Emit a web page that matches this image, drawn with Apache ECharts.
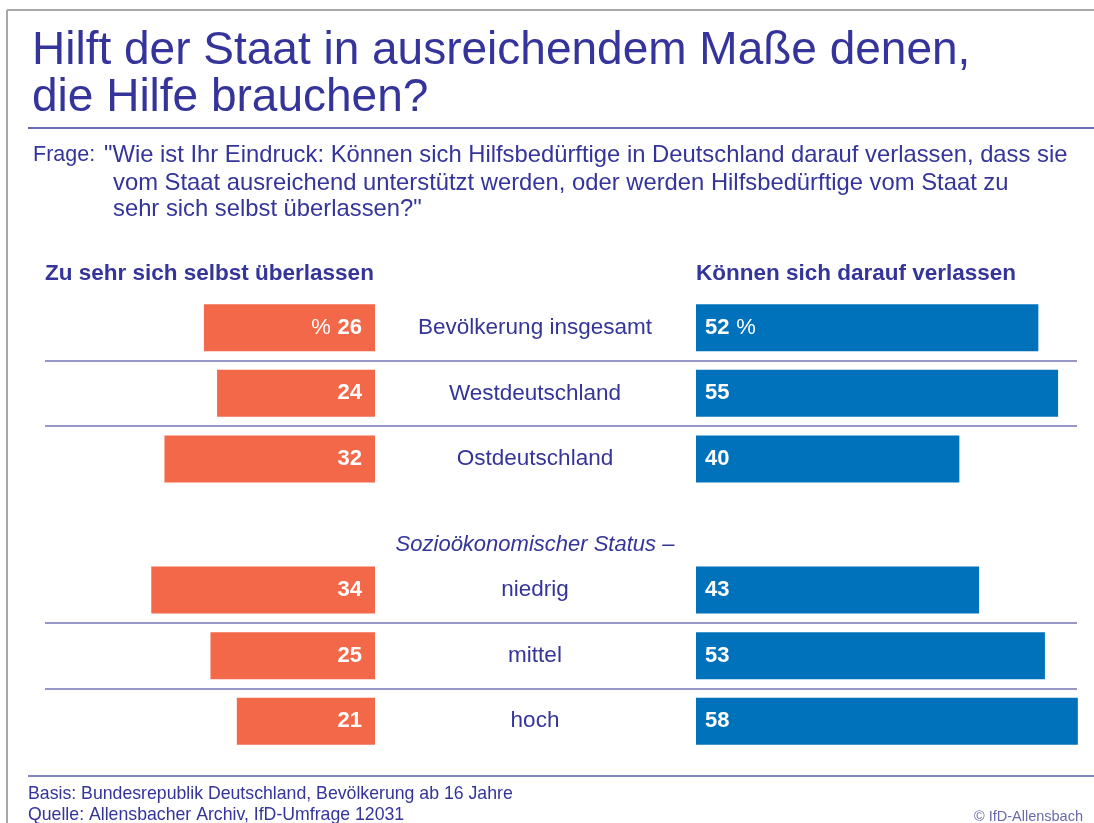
<!DOCTYPE html>
<html>
<head>
<meta charset="utf-8">
<script src="https://cdn.jsdelivr.net/npm/echarts@6/dist/echarts.min.js"></script>
<style>
  html, body { margin: 0; padding: 0; background: #fff; }
  #main { width: 1094px; height: 823px; }
</style>
</head>
<body>
<div id="main"></div>
<script>
// Kategorien (Zeile 4 ist die Lücke für die Zwischenüberschrift)
var categories = ['Bevölkerung insgesamt', 'Westdeutschland', 'Ostdeutschland', '', 'niedrig', 'mittel', 'hoch'];
var subHeading = 'Sozioökonomischer Status –';
// Zu sehr sich selbst überlassen
var leftValues = [26, 24, 32, '-', 34, 25, 21];
// Können sich darauf verlassen
var rightValues = [52, 55, 40, '-', 43, 53, 58];

var FONT = '"Liberation Sans", Arial, sans-serif';
var BLUE_TEXT = '#34349a';

var myChart = echarts.init(document.getElementById('main'));

var option = {
    textStyle: { fontFamily: FONT },
    animation: false,
    title: [{
        text: 'Hilft der Staat in ausreichendem Maße denen,\ndie Hilfe brauchen?',
        left: 27, top: 23,
        textStyle: { fontSize: 46, fontWeight: 'normal', color: BLUE_TEXT, lineHeight: 47, fontFamily: FONT }
    }, {
        text: 'Frage:',
        left: 28, top: 139,
        textStyle: { fontSize: 21.5, fontWeight: 'normal', color: BLUE_TEXT, fontFamily: FONT }
    }, {
        text: '"Wie ist Ihr Eindruck: Können sich Hilfsbedürftige in Deutschland darauf verlassen, dass sie',
        left: 99, top: 138,
        textStyle: { fontSize: 23.8, fontWeight: 'normal', color: BLUE_TEXT, fontFamily: FONT }
    }, {
        text: 'vom Staat ausreichend unterstützt werden, oder werden Hilfsbedürftige vom Staat zu\nsehr sich selbst überlassen?"',
        left: 108, top: 165,
        textStyle: { fontSize: 23.8, fontWeight: 'normal', color: BLUE_TEXT, lineHeight: 26.5, fontFamily: FONT }
    }, {
        text: 'Zu sehr sich selbst überlassen',
        left: 40, top: 257,
        textStyle: { fontSize: 22.5, fontWeight: 'bold', color: BLUE_TEXT, fontFamily: FONT }
    }, {
        text: 'Können sich darauf verlassen',
        left: 691, top: 257,
        textStyle: { fontSize: 22.5, fontWeight: 'bold', color: BLUE_TEXT, fontFamily: FONT }
    }, {
        text: 'Basis: Bundesrepublik Deutschland, Bevölkerung ab 16 Jahre\nQuelle: Allensbacher Archiv, IfD-Umfrage 12031',
        left: 23, top: 779,
        textStyle: { fontSize: 17.7, fontWeight: 'normal', color: BLUE_TEXT, lineHeight: 21, fontFamily: FONT }
    }, {
        text: '© IfD-Allensbach',
        right: 6, top: 804,
        textStyle: { fontSize: 14.5, fontWeight: 'normal', color: '#6a6aa8', fontFamily: FONT }
    }],
    grid: [
        // links
        { left: 46, width: 329, top: 295, bottom: 69 },
        // rechts
        { left: 696, width: 395, top: 295, bottom: 69 },
        // Trennlinien (nur die ersten sechs Zeilen, die letzte Grenze liegt unter "mittel")
        { left: 45, right: 17, top: 295, height: 393.5 }
    ],
    xAxis: [
        { gridIndex: 0, type: 'value', min: 0, max: 50, inverse: true, show: false },
        { gridIndex: 1, type: 'value', min: 0, max: 60, show: false },
        { gridIndex: 2, type: 'value', min: 0, max: 1, show: false }
    ],
    yAxis: [{
        gridIndex: 0, type: 'category', data: categories, inverse: true,
        axisLine: { show: false }, axisTick: { show: false }, axisLabel: { show: false }, splitLine: { show: false }
    }, {
        gridIndex: 1, type: 'category', data: categories, inverse: true,
        axisLine: { show: false }, axisTick: { show: false }, splitLine: { show: false },
        axisLabel: {
            show: true, interval: 0, align: 'center', margin: 161,
            fontSize: 22.5, color: BLUE_TEXT, fontFamily: FONT,
            formatter: function (v, i) {
                if (v === '') return '{sub|' + subHeading + '}';
                return v;
            },
            rich: {
                sub: { fontSize: 22, fontStyle: 'italic', color: BLUE_TEXT, fontFamily: FONT, padding: [40, 0, 0, 0] }
            }
        }
    }, {
        gridIndex: 2, type: 'category', data: categories.slice(0, 6), inverse: true,
        axisLine: { show: false }, axisTick: { show: false }, axisLabel: { show: false },
        splitLine: {
            show: true,
            interval: function (i) { return i === 1 || i === 2 || i === 5; },
            lineStyle: { color: '#7676b4', width: 1.5 }
        }
    }],
    graphic: [
        // grauer Rahmen
        { type: 'line', shape: { x1: 7, y1: 10, x2: 1094, y2: 10 }, style: { stroke: '#a8a8a8', lineWidth: 2 } },
        { type: 'line', shape: { x1: 7, y1: 10, x2: 7, y2: 823 }, style: { stroke: '#a8a8a8', lineWidth: 2 } },
        // Linie unter dem Titel
        { type: 'line', shape: { x1: 28, y1: 128, x2: 1094, y2: 128 }, style: { stroke: '#3a3aa0', lineWidth: 1.5 } },
        // Linie über der Fußzeile
        { type: 'line', shape: { x1: 28, y1: 776, x2: 1094, y2: 776 }, style: { stroke: '#5c5ca8', lineWidth: 1.5 } }
    ],
    series: [{
        name: 'Zu sehr sich selbst überlassen',
        type: 'bar',
        xAxisIndex: 0, yAxisIndex: 0,
        barWidth: 47,
        itemStyle: { color: '#f26849' },
        label: {
            show: true, position: 'insideRight', distance: 13,
            formatter: function (p) {
                return p.dataIndex === 0 ? '{p|%}  {v|' + p.value + '}' : '{v|' + p.value + '}';
            },
            rich: {
                v: { fontSize: 22, fontWeight: 'bold', color: '#fff', fontFamily: FONT },
                p: { fontSize: 22, color: '#fff', fontFamily: FONT }
            }
        },
        data: leftValues
    }, {
        name: 'Können sich darauf verlassen',
        type: 'bar',
        xAxisIndex: 1, yAxisIndex: 1,
        barWidth: 47,
        itemStyle: { color: '#0072bb' },
        label: {
            show: true, position: 'insideLeft', distance: 9,
            formatter: function (p) {
                return p.dataIndex === 0 ? '{v|' + p.value + '}  {p|%}' : '{v|' + p.value + '}';
            },
            rich: {
                v: { fontSize: 22, fontWeight: 'bold', color: '#fff', fontFamily: FONT },
                p: { fontSize: 22, color: '#fff', fontFamily: FONT }
            }
        },
        data: rightValues
    }]
};

myChart.setOption(option);
</script>
</body>
</html>
